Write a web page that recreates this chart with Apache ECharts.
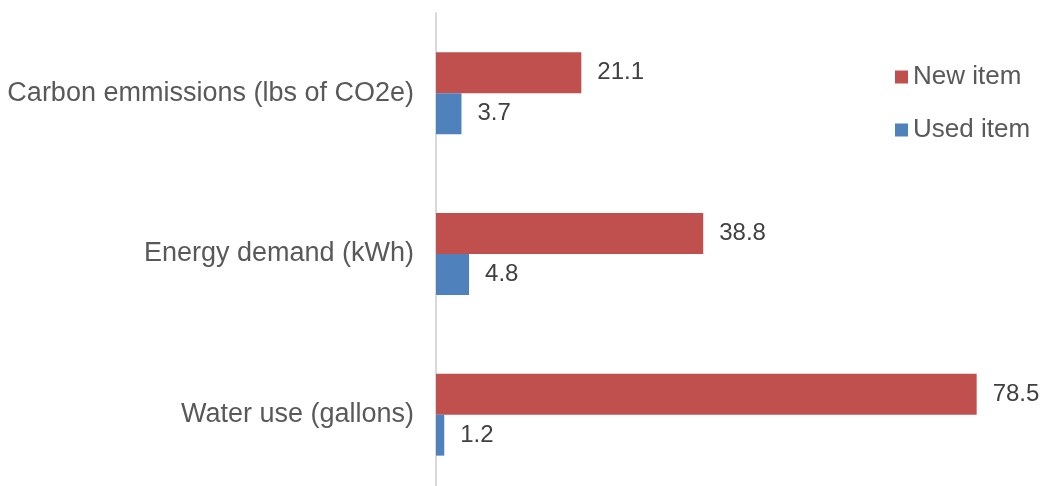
<!DOCTYPE html>
<html>
<head>
<meta charset="utf-8">
<script src="https://cdn.jsdelivr.net/npm/echarts@6/dist/echarts.min.js"></script>
<style>
  html, body { margin: 0; padding: 0; background: #fff; }
  #main { width: 1045px; height: 486px; }
</style>
</head>
<body>
<div id="main"></div>
<script>
// data
var categories = ['Carbon emmissions (lbs of CO2e)', 'Energy demand (kWh)', 'Water use (gallons)'];
var newItem = [21.1, 38.8, 78.5];
var usedItem = [3.7, 4.8, 1.2];
var seriesNames = ['New item', 'Used item'];

var myChart = echarts.init(document.getElementById('main'));

var labelStyle = {
    show: true,
    position: 'right',
    distance: 16,
    fontFamily: 'Liberation Sans, Arial, sans-serif',
    fontSize: 24,
    color: '#404040'
};

var option = {
    animation: false,
    textStyle: { fontFamily: 'Liberation Sans, Arial, sans-serif' },
    legend: {
        orient: 'vertical',
        left: 890,
        top: 59,
        itemWidth: 13,
        itemHeight: 13,
        itemGap: 27,
        itemTextGap: 10,
        icon: 'rect',
        textStyle: { fontSize: 26, color: '#595959' },
        data: seriesNames
    },
    grid: {
        left: 436,
        top: 13,
        width: 551,
        height: 482,
        containLabel: false,
        outerBoundsMode: 'none'
    },
    xAxis: {
        type: 'value',
        min: 0,
        max: 80,
        show: false
    },
    yAxis: {
        type: 'category',
        inverse: true,
        data: categories,
        axisLine: { show: true, lineStyle: { color: '#d9d9d9', width: 2 } },
        axisTick: { show: false },
        axisLabel: {
            fontSize: 27,
            color: '#595959',
            margin: 22
        }
    },
    series: [{
        name: seriesNames[0],
        type: 'bar',
        data: newItem,
        barGap: '0%',
        barCategoryGap: '49%',
        itemStyle: { color: '#C0504D' },
        label: labelStyle
    }, {
        name: seriesNames[1],
        type: 'bar',
        data: usedItem,
        itemStyle: { color: '#4F81BD' },
        label: labelStyle
    }]
};
myChart.setOption(option);
</script>
</body>
</html>
